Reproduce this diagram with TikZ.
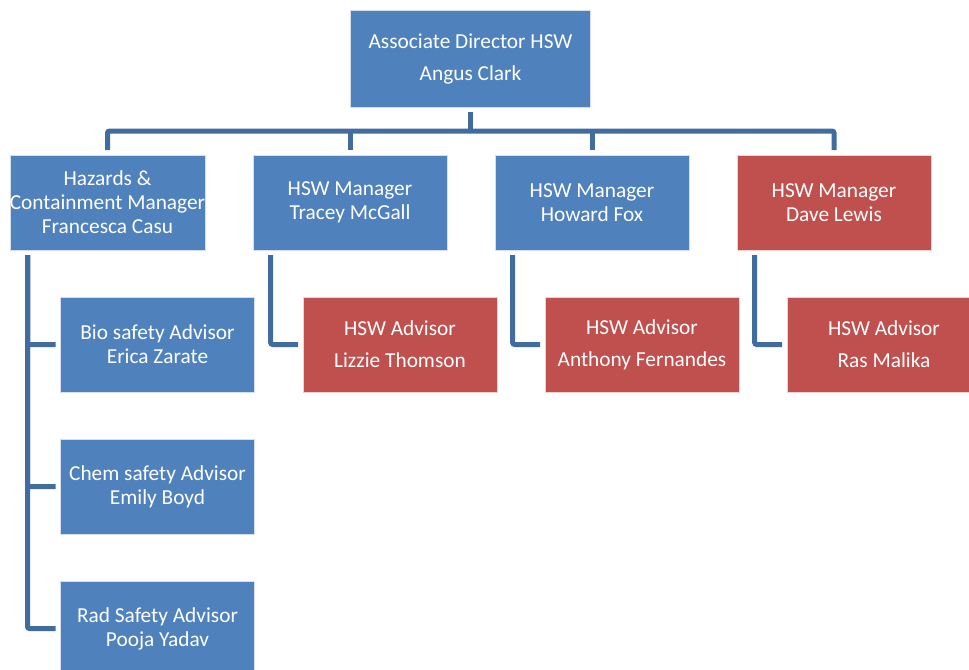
\documentclass[tikz,border=0pt]{standalone}
\usepackage{fontspec}
\setmainfont{Carlito}
\usetikzlibrary{positioning}
\definecolor{boxblue}{RGB}{79,129,189}
\definecolor{boxred}{RGB}{192,80,77}
\definecolor{lineblue}{RGB}{64,108,160}
\tikzstyle{block} = [rectangle, draw=white!75!boxblue, fill=boxblue, text=white, align=center, inner sep=0pt, outer sep=3.75pt, minimum width=145.5pt, minimum height=71.25pt, font=\fontsize{16pt}{18pt}\selectfont]
\tikzstyle{redblock} = [block, fill=boxred, draw=white!75!boxred]
\tikzstyle{line} = [draw=lineblue, line width=3.75pt, rounded corners=1.5pt]

\begin{document}
\begin{tikzpicture}[x=0.75pt, y=-0.75pt, node distance=106.5pt]
	\useasboundingbox (0,0) rectangle (969,669);
	\clip (0,0) rectangle (969,669);
	\node [block, minimum width=180pt, minimum height=72.75pt] (director) at (470.5,58.5) {Associate Director HSW\\[6pt]Angus Clark};
	\node [block] (hazards) at (107.5,202.5) {Hazards \&\\Containment Manager\\Francesca Casu};
	\node [block] (tracey) at (350,202.5) {HSW Manager\\Tracey McGall};
	\node [block] (howard) at (592,202.5) {HSW Manager\\Howard Fox};
	\node [redblock] (dave) at (834,202.5) {HSW Manager\\Dave Lewis};
	\node [block, below of=hazards, xshift=37.5pt] (bio) {Bio safety Advisor\\Erica Zarate};
	\node [block, below of=bio] (chem) {Chem safety Advisor\\Emily Boyd};
	\node [block, below of=chem] (rad) {Rad Safety Advisor\\Pooja Yadav};
	\node [redblock, below of=tracey, xshift=37.5pt] (lizzie) {HSW Advisor\\[6pt]Lizzie Thomson};
	\node [redblock, below of=howard, xshift=37.5pt] (anthony) {HSW Advisor\\[6pt]Anthony Fernandes};
	\node [redblock, below of=dave, xshift=37.5pt] (ras) {HSW Advisor\\[6pt]Ras Malika};
	\coordinate (bus) at (0,131);
	\path [line] (director.south) -- (director.south |- bus);
	\path [line] (hazards.north) -- (hazards.north |- bus) -- (dave.north |- bus) -- (dave.north);
	\path [line] (tracey.north) -- (tracey.north |- bus);
	\path [line] (howard.north) -- (howard.north |- bus);
	\path [line] ([xshift=17pt]hazards.south west) |- (bio.west);
	\path [line] ([xshift=17pt]hazards.south west) |- (chem.west);
	\path [line] ([xshift=17pt]hazards.south west) |- (rad.west);
	\path [line] ([xshift=17pt]tracey.south west) |- (lizzie.west);
	\path [line] ([xshift=17pt]howard.south west) |- (anthony.west);
	\path [line] ([xshift=17pt]dave.south west) |- (ras.west);
\end{tikzpicture}
\end{document}
